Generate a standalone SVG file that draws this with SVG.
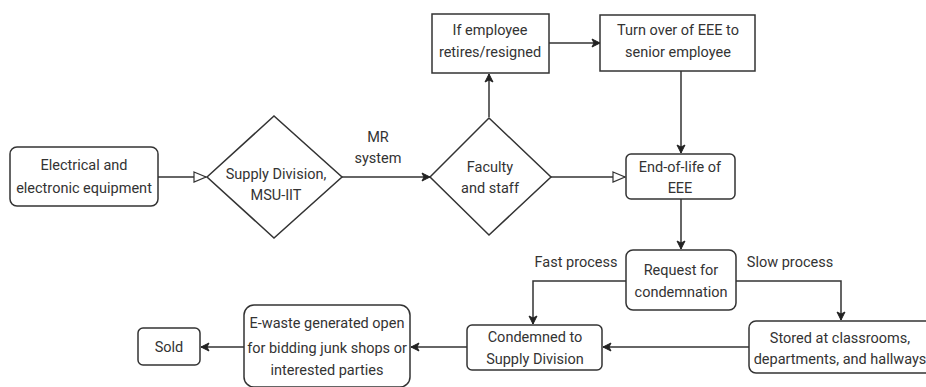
<svg xmlns="http://www.w3.org/2000/svg" width="926" height="387" viewBox="0 0 926 387">
<defs>
<style>
.n{fill:#fff;stroke:#333;stroke-width:1.5}
.t{font-family:Roboto,"Liberation Sans",sans-serif;font-size:14.5px;fill:#333;text-anchor:middle}
.e{fill:none;stroke:#333;stroke-width:1.5}
</style>
<marker id="f" markerWidth="10" markerHeight="10" refX="9" refY="5" orient="auto" markerUnits="userSpaceOnUse"><path d="M1,1 L9,5 L1,9 L3,5 Z" fill="#222" stroke="#222"/></marker>
<marker id="o" markerWidth="14" markerHeight="12" refX="13" refY="6" orient="auto" markerUnits="userSpaceOnUse"><path d="M1,1 L13,6 L1,11 Z" fill="#fff" stroke="#333" stroke-width="1.2"/></marker>
</defs>
<rect width="926" height="387" fill="#fff"/>
<g id="connectors">
<path class="e" d="M158,177 H206" marker-end="url(#o)"/>
<path class="e" d="M342,177 H430" marker-end="url(#f)"/>
<path class="e" d="M489,117 V74" marker-end="url(#f)"/>
<path class="e" d="M549,43 H600" marker-end="url(#f)"/>
<path class="e" d="M681,71 V153" marker-end="url(#f)"/>
<path class="e" d="M551,177 H625" marker-end="url(#o)"/>
<path class="e" d="M681,199 V249" marker-end="url(#f)"/>
<path class="e" d="M626,281 H533 V324" marker-end="url(#f)"/>
<path class="e" d="M736,281 H841 V320" marker-end="url(#f)"/>
<path class="e" d="M749,347 H603" marker-end="url(#f)"/>
<path class="e" d="M467,347 H411" marker-end="url(#f)"/>
<path class="e" d="M244,347 H201" marker-end="url(#f)"/>
<text class="t" x="378" y="142">MR</text>
<text class="t" x="378" y="163">system</text>
<text class="t" x="576" y="267">Fast process</text>
<text class="t" x="790" y="267">Slow process</text>
</g>
<g id="n1"><rect class="n" x="10" y="147" width="148" height="59" rx="7"/>
<text class="t" x="84" y="170">Electrical and</text><text class="t" x="84" y="193">electronic equipment</text></g>
<g id="n2"><path class="n" d="M207,177 L274,116 L342,177 L274,238 Z"/>
<text class="t" x="276" y="179">Supply Division,</text><text class="t" x="276" y="200">MSU-IIT</text></g>
<g id="n3"><path class="n" d="M430,177 L489,118 L551,177 L489,235 Z"/>
<text class="t" x="490" y="172">Faculty</text><text class="t" x="490" y="193">and staff</text></g>
<g id="n4"><rect class="n" x="432" y="14" width="117" height="59"/>
<text class="t" x="490" y="35">If employee</text><text class="t" x="490" y="57">retires/resigned</text></g>
<g id="n5"><rect class="n" x="600" y="15" width="155" height="56"/>
<text class="t" x="678" y="35">Turn over of EEE to</text><text class="t" x="678" y="57">senior employee</text></g>
<g id="n6"><rect class="n" x="626" y="154" width="109" height="45" rx="5"/>
<text class="t" x="680" y="172">End-of-life of</text><text class="t" x="680" y="193">EEE</text></g>
<g id="n7"><rect class="n" x="626" y="250" width="110" height="60" rx="7"/>
<text class="t" x="681" y="275">Request for</text><text class="t" x="681" y="297">condemnation</text></g>
<g id="n8"><rect class="n" x="749" y="321" width="190" height="52" rx="7"/>
<text class="t" x="840" y="343">Stored at classrooms,</text><text class="t" x="840" y="364">departments, and hallways</text></g>
<g id="n9"><rect class="n" x="467" y="325" width="135" height="45" rx="5"/>
<text class="t" x="535" y="342">Condemned to</text><text class="t" x="535" y="364">Supply Division</text></g>
<g id="n10"><rect class="n" x="244" y="305" width="166" height="82" rx="10"/>
<text class="t" x="327" y="328">E-waste generated open</text><text class="t" x="327" y="353">for bidding junk shops or</text><text class="t" x="327" y="375">interested parties</text></g>
<g id="n11"><rect class="n" x="138" y="328" width="62" height="37" rx="5"/>
<text class="t" x="169" y="352">Sold</text></g>
</svg>
